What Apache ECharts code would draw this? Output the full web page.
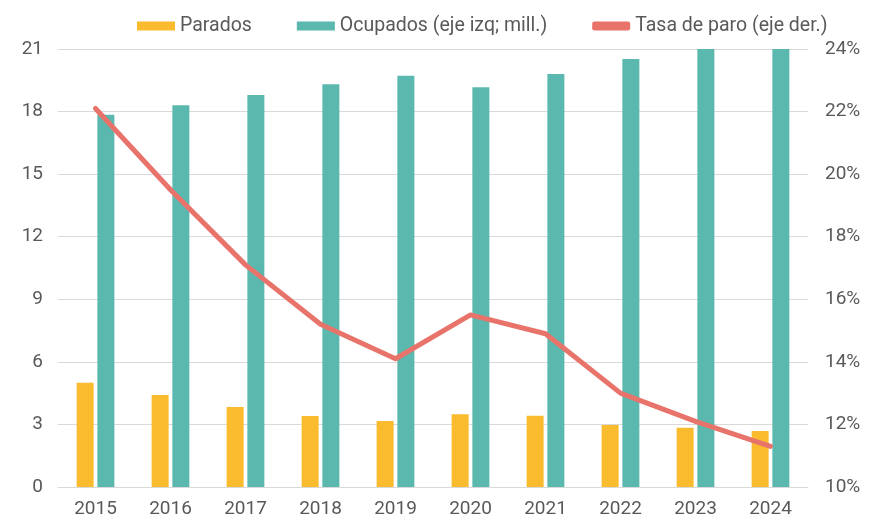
<!DOCTYPE html>
<html lang="es">
<head>
    <meta charset="UTF-8">
    <title>paro_ocupados</title>
    <style>
        html, body { margin: 0; padding: 0; background: #fff; }
        #main { width: 879px; height: 521px; }
    </style>
</head>
<body>
    <div id="main"></div>
</body>
<script src="https://cdn.jsdelivr.net/npm/echarts@6/dist/echarts.min.js"></script>
<script>
    var years = ['2015', '2016', '2017', '2018', '2019', '2020', '2021', '2022', '2023', '2024']
    var parados = [5.0, 4.41, 3.84, 3.40, 3.16, 3.49, 3.42, 2.97, 2.84, 2.69]
    var ocupados = [17.85, 18.3, 18.8, 19.31, 19.72, 19.17, 19.8, 20.52, 21.1, 21.6]
    var tasaParo = [22.1, 19.5, 17.1, 15.2, 14.1, 15.5, 14.9, 13.0, 12.1, 11.3]
    var leftTicks = [0, 21, 3]
    var rightTicks = [10, 24, 2]

    var main = echarts.init(document.getElementById('main'))
    var txt = '#595959'
    var font = 'Roboto'
    option = {
        animation: false,
        textStyle: { fontFamily: font },
        legend: {
            top: 11,
            left: 132,
            itemGap: 45,
            itemWidth: 38,
            itemHeight: 9,
            textStyle: { color: txt, fontSize: 19.5, fontFamily: font },
            data: [
                { name: 'Parados', icon: 'rect' },
                { name: 'Ocupados (eje izq; mill.)', icon: 'rect' },
                { name: 'Tasa de paro (eje der.)', icon: 'roundRect' }
            ]
        },
        grid: { left: 58, right: 71, top: 49, bottom: 34 },
        xAxis: {
            type: 'category',
            data: years,
            axisTick: { show: false },
            axisLine: { lineStyle: { color: '#d9d9d9' } },
            axisLabel: { color: txt, fontSize: 19, margin: 13 }
        },
        yAxis: [
            {
                type: 'value',
                min: leftTicks[0], max: leftTicks[1], interval: leftTicks[2],
                axisLabel: { color: txt, fontSize: 19, margin: 15 },
                splitLine: { lineStyle: { color: '#d9d9d9' } }
            },
            {
                type: 'value',
                min: rightTicks[0], max: rightTicks[1], interval: rightTicks[2],
                axisLabel: { color: txt, fontSize: 19, margin: 17, formatter: '{value}%' },
                splitLine: { show: false }
            }
        ],
        series: [
            {
                name: 'Parados',
                type: 'bar',
                data: parados,
                barWidth: 17,
                barGap: '22%',
                itemStyle: { color: '#FBBB2E' }
            },
            {
                name: 'Ocupados (eje izq; mill.)',
                type: 'bar',
                data: ocupados,
                barWidth: 17,
                clip: true,
                itemStyle: { color: '#5AB8AF' }
            },
            {
                name: 'Tasa de paro (eje der.)',
                type: 'line',
                yAxisIndex: 1,
                data: tasaParo,
                symbol: 'none',
                lineStyle: { color: '#E8736A', width: 5, cap: 'round', join: 'round' },
                itemStyle: { color: '#E8736A' }
            }
        ]
    }
    main.setOption(option)
</script>
</html>
